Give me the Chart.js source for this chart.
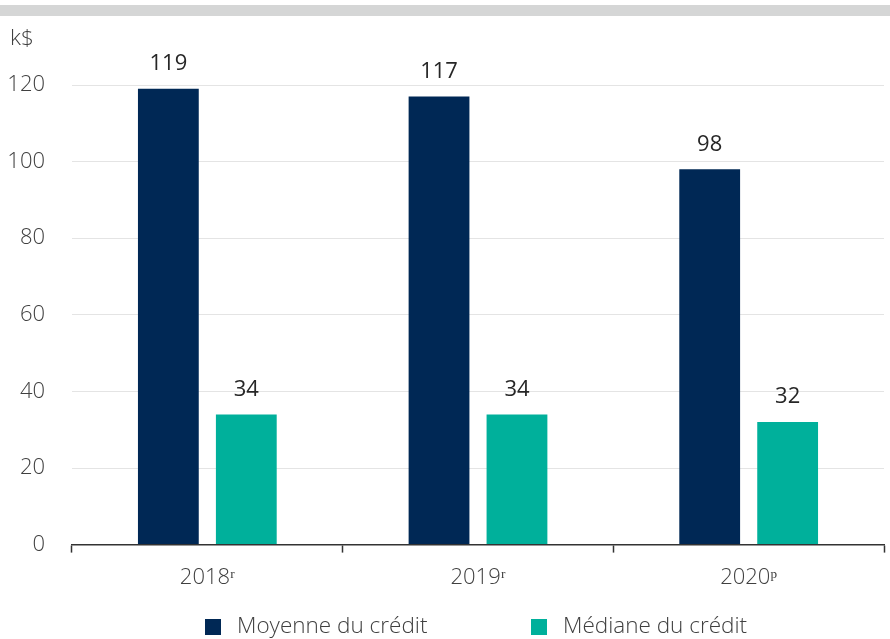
<!DOCTYPE html>
<html>
<head>
<meta charset="utf-8">
<script src="https://cdn.jsdelivr.net/npm/chart.js@4"></script>
<style>
  body { margin: 0; background: #fff; }
  #wrap { width: 890px; height: 639px; position: relative; }
</style>
</head>
<body>
<div id="wrap"><canvas id="myChart"></canvas></div>
<script>
const years = ["2018ʳ", "2019ʳ", "2020ᵖ"];
const moyenne = [119, 117, 98];
const mediane = [34, 34, 32];
const yTicks = [0, 20, 40, 60, 80, 100, 120];

const textColor = "#404040";
const legendX = [205, 531];

// top grey band, "k$" unit, value labels above bars and the legend
const extras = {
  id: "extras",
  beforeDraw(chart) {
    const ctx = chart.ctx;
    ctx.save();
    ctx.fillStyle = "#d5d6d6";
    ctx.fillRect(0, 5, chart.width, 11);
    ctx.restore();
  },
  afterDatasetsDraw(chart) {
    const ctx = chart.ctx;
    ctx.save();
    ctx.font = "400 22px 'Open Sans'";
    ctx.fillStyle = "#262626";
    ctx.textAlign = "center";
    ctx.textBaseline = "middle";
    chart.data.datasets.forEach((ds, i) => {
      chart.getDatasetMeta(i).data.forEach((bar, j) => {
        ctx.fillText(ds.data[j], bar.x, bar.y - 25);
      });
    });
    ctx.textAlign = "left";
    ctx.font = "300 22.5px 'Open Sans'";
    ctx.fillStyle = textColor;
    ctx.fillText("k$", 10, 39);
    // legend
    chart.data.datasets.forEach((ds, i) => {
      const x = legendX[i];
      ctx.fillStyle = ds.backgroundColor;
      ctx.fillRect(x, 619, 16, 16);
      ctx.fillStyle = textColor;
      ctx.fillText(ds.label, x + 32, 627);
    });
    ctx.restore();
  },
};

var ctx = document.getElementById("myChart").getContext("2d");
var chart = new Chart(ctx, {
  type: "bar",
  data: {
    labels: years,
    datasets: [
      {
        label: "Moyenne du crédit",
        backgroundColor: "#002855",
        data: moyenne,
        barPercentage: 0.78,
        categoryPercentage: 0.576,
      },
      {
        label: "Médiane du crédit",
        backgroundColor: "#00b09b",
        data: mediane,
        barPercentage: 0.78,
        categoryPercentage: 0.576,
      },
    ],
  },
  options: {
    responsive: true,
    maintainAspectRatio: false,
    animation: false,
    layout: { padding: { top: 85, right: 6, left: 0, bottom: 36 } },
    plugins: {
      tooltip: { enabled: false },
      legend: { display: false },
    },
    scales: {
      x: {
        grid: {
          offset: true,
          drawOnChartArea: false,
          drawTicks: true,
          tickLength: 8,
          tickColor: "#333",
          tickWidth: 1.5,
        },
        border: { display: true, color: "#333", width: 1.5 },
        ticks: {
          color: textColor,
          padding: 12,
          font: { family: "Open Sans", size: 22, weight: "300" },
        },
      },
      y: {
        min: 0,
        max: 120,
        afterBuildTicks(axis) {
          axis.ticks = yTicks.map((v) => ({ value: v }));
        },
        afterFit(axis) {
          axis.width = 72;
        },
        grid: { color: "#e4e4e4", lineWidth: 1, drawTicks: false },
        border: { display: false },
        ticks: {
          color: textColor,
          padding: 27,
          font: { family: "Open Sans", size: 22, weight: "300" },
        },
      },
    },
  },
  plugins: [extras],
});
</script>
</body>
</html>
